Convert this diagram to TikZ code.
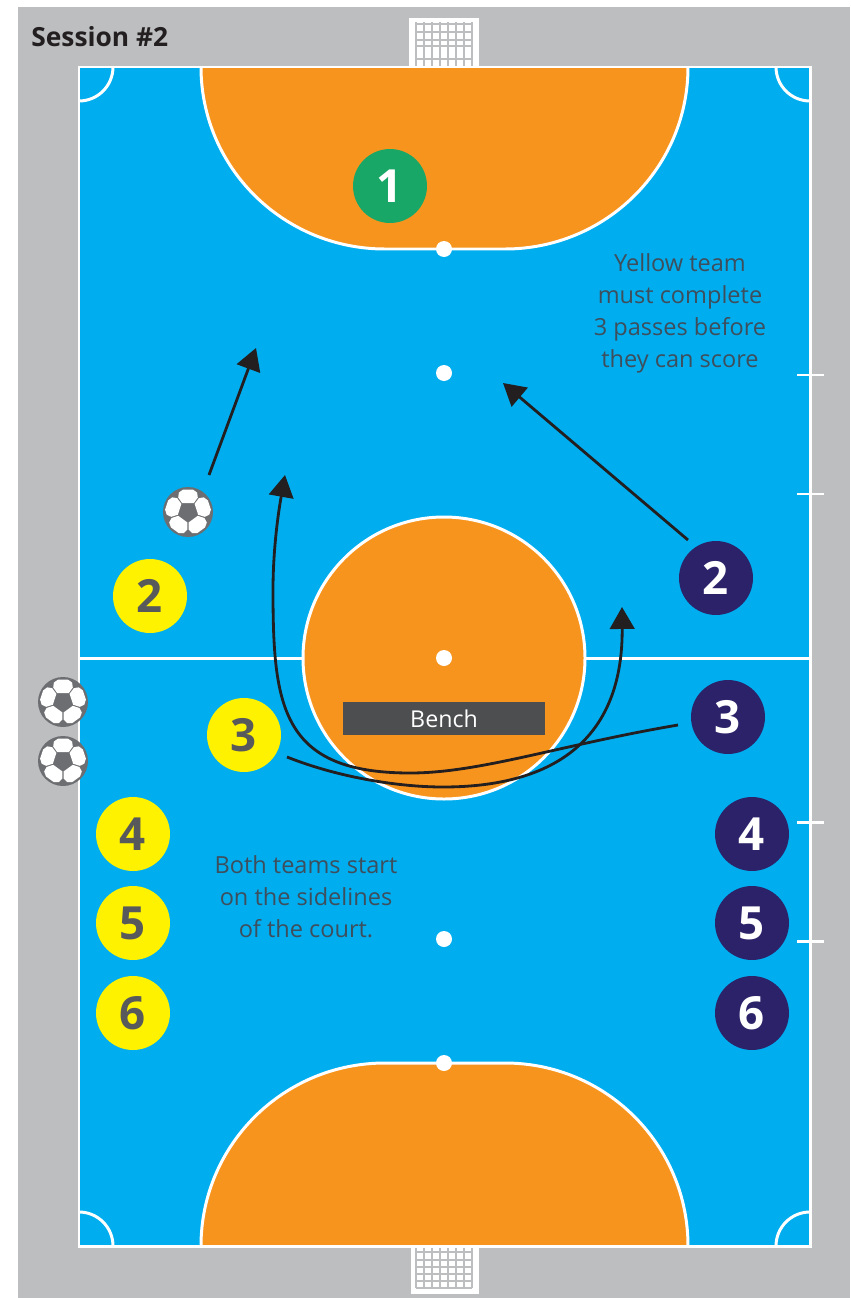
\documentclass[tikz,border=0pt]{standalone}
\usepackage{fontspec}
\setmainfont{Open Sans}
\usetikzlibrary{arrows.meta,calc}
\definecolor{courtBlue}{RGB}{0,174,239}
\definecolor{courtOrange}{RGB}{247,148,29}
\definecolor{courtGrey}{RGB}{188,190,192}
\definecolor{teamYellow}{RGB}{255,242,0}
\definecolor{teamNavy}{RGB}{43,34,105}
\definecolor{keeperGreen}{RGB}{25,167,103}
\definecolor{inkGrey}{RGB}{88,89,91}
\definecolor{noteGrey}{RGB}{62,78,92}
\definecolor{benchGrey}{RGB}{77,78,80}
\definecolor{ballGrey}{RGB}{109,110,113}
\definecolor{arrowDark}{RGB}{35,31,32}

\begin{document}
\begin{tikzpicture}[
  x=0.02cm, y=-0.02cm,
  courtline/.style={white, line width=1.7pt},
  zone/.style={fill=courtOrange, draw=white, line width=1.7pt},
  spot/.style={circle, fill=white, inner sep=0pt, minimum size=0.32cm},
  player/.style={circle, inner sep=0pt, minimum size=1.48cm, font=\fontsize{26}{26}\selectfont\bfseries},
  yellowplayer/.style={player, fill=teamYellow, text=inkGrey},
  navyplayer/.style={player, fill=teamNavy, text=white},
  keeper/.style={player, fill=keeperGreen, text=white},
  balldisc/.style={circle, fill=ballGrey, inner sep=0pt, minimum size=1cm},
  note/.style={font=\fontsize{13.4}{18.2}\selectfont, text=noteGrey, align=center},
  run/.style={arrowDark, line width=1.6pt},
  runarrow/.style={run, -{Triangle[width=14pt, length=12.5pt]}},
  netline/.style={courtGrey, line width=1.1pt},
]

%% ── page and court ───────────────────────────────────────
\useasboundingbox (0,0) rectangle (850,1298);
\fill[courtGrey] (18,7) rectangle (850,1298);
\fill[courtBlue] (79,67) rectangle (810,1246);

%% ── goals: outer frame, then net lines ───────────────────
\fill[white] (409,18) rectangle (479,67);
\fill[white] (411,1246) rectangle (479,1294);
\foreach \nx in {416,424,...,472}{
  \draw[netline] (\nx,22) -- (\nx,67);
  \draw[netline] (\nx,1246) -- (\nx,1288);
}
\foreach \ny in {24,32,40,46,59}
  \draw[netline] (416,\ny) -- (472,\ny);
\foreach \ny in {1252,1260,1267,1274,1281,1288}
  \draw[netline] (416,\ny) -- (472,\ny);

%% ── penalty areas ────────────────────────────────────────
\draw[zone] (201,67) arc[start angle=180, end angle=90, x radius=184, y radius=182]
  -- (505,249) arc[start angle=90, end angle=0, x radius=183, y radius=182];
\draw[zone] (201,1246) arc[start angle=180, end angle=270, x radius=184, y radius=183]
  -- (505,1063) arc[start angle=270, end angle=360, x radius=183, y radius=183];

%% ── halfway line and centre circle ───────────────────────
\draw[courtline] (79,658) -- (810,658);
\draw[zone] (444,658) circle (141);

%% ── boundary, corners, side marks ────────────────────────
\draw[courtline] (79,67) rectangle (810,1246);
\draw[courtline] (113,67) arc[start angle=0, end angle=90, radius=34];
\draw[courtline] (776,67) arc[start angle=180, end angle=90, radius=34];
\draw[courtline] (113,1246) arc[start angle=0, end angle=-90, radius=34];
\draw[courtline] (776,1246) arc[start angle=180, end angle=270, radius=34];
\foreach \my in {375,494,822,941}
  \draw[courtline] (797,\my) -- (824,\my);

\node[spot] (spotA) at (444,249) {};
\node[spot] (spotB) at (444,373) {};
\node[spot] (spotC) at (444,658) {};
\node[spot] (spotD) at (444,939) {};
\node[spot] (spotE) at (444,1063) {};

%% ── helper: one ball, args: name, x, y ───────────────────
\newcommand{\ballmark}[3]{
  \node[balldisc] (#1) at (#2,#3) {};
  \foreach \pa in {-90,-162,-234,-306,-18}{
    \fill[white] ($(#1)+(\pa-33:10.5)$) -- ($(#1)+(\pa+33:10.5)$) -- ($(#1)+(\pa+34:17.5)$)
      -- ($(#1)+(\pa+25:21.5)$) -- ($(#1)+(\pa+12:23)$) -- ($(#1)+(\pa-12:23)$)
      -- ($(#1)+(\pa-25:21.5)$) -- ($(#1)+(\pa-34:17.5)$) -- cycle;
  }
}
\ballmark{ballRun}{188}{512}
\ballmark{ballUp}{63}{702}
\ballmark{ballLow}{63}{761}

%% ── players ──────────────────────────────────────────────
\node[keeper] (keep) at (390,186) {1};
\node[yellowplayer] (ylTwo) at (150,596) {2};
\node[yellowplayer] (ylThree) at (244,735) {3};
\node[yellowplayer] (ylFour) at (133,834) {4};
\node[yellowplayer] (ylFive) at (133,923) {5};
\node[yellowplayer] (ylSix) at (133,1013) {6};
\node[navyplayer] (nvTwo) at (716,578) {2};
\node[navyplayer] (nvThree) at (728,717) {3};
\node[navyplayer] (nvFour) at (752,834) {4};
\node[navyplayer] (nvFive) at (752,923) {5};
\node[navyplayer] (nvSix) at (752,1013) {6};

%% ── texts ────────────────────────────────────────────────
\node[fill=benchGrey, text=white, minimum width=4.04cm, minimum height=0.66cm,
      inner sep=0pt, font=\fontsize{13.2}{16}\selectfont] (bench) at (444,718.5) {Bench};
\node[font=\fontsize{15}{16}\selectfont\bfseries, text=arrowDark, anchor=west, inner sep=0pt]
     (title) at (31,37) {Session \#2};
\node[note] (noteYellow) at (680,313.5) {Yellow team\\must complete\\3 passes before\\they can score};
\node[note] (noteBoth) at (306,897) {Both teams start\\on the sidelines\\of the court.};

%% ── runs ─────────────────────────────────────────────────
\coordinate (ballTail) at (209,475);
\coordinate (ballTip) at (256,348);
\coordinate (navyTail) at (688,540);
\coordinate (navyTip) at (503,383);
\coordinate (crossTail) at (678,725);
\coordinate (crossBend) at (273,590);
\coordinate (crossTip) at (285,475);
\coordinate (yellowTail) at (287,757);
\coordinate (yellowTip) at (622,607);

\draw[runarrow] (ballTail) -- (ballTip);
\draw[runarrow] (navyTail) -- (navyTip);
\draw[runarrow] (crossTail) .. controls (560,745) and (480,773) .. (410,773)
  .. controls (281,773) and (273,706) .. (crossBend)
  .. controls (273,555) and (277,520) .. (crossTip);
\draw[runarrow] (yellowTail) .. controls (340,778) and (400,787) .. (443,787)
  .. controls (565,787) and (623,730) .. (yellowTip);

\end{tikzpicture}
\end{document}
